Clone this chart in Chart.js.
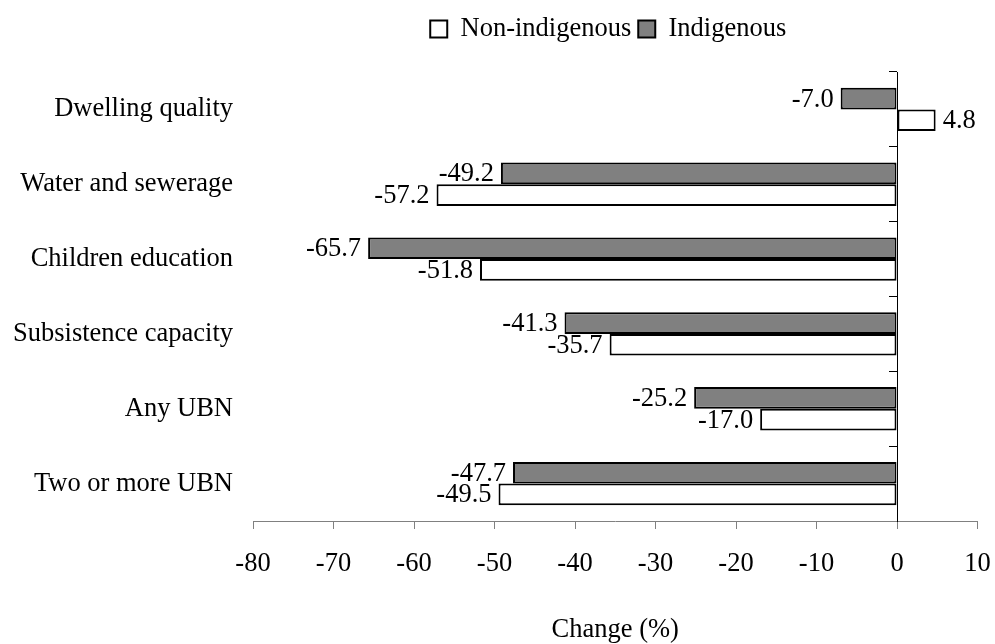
<!DOCTYPE html>
<html>
<head>
<meta charset="utf-8">
<script src="https://cdn.jsdelivr.net/npm/chart.js@4.4.1/dist/chart.umd.min.js"></script>
<style>
  html, body { margin: 0; padding: 0; background: #ffffff; }
  canvas { display: block; }
</style>
</head>
<body>
<canvas id="c" width="995" height="644"></canvas>
<script>
const categories = ['Dwelling quality', 'Water and sewerage', 'Children education', 'Subsistence capacity', 'Any UBN', 'Two or more UBN'];
const indigenous = [-7.0, -49.2, -65.7, -41.3, -25.2, -47.7];
const nonIndigenous = [4.8, -57.2, -51.8, -35.7, -17.0, -49.5];
const seriesNames = ['Indigenous', 'Non-indigenous'];
const xMin = -80;
const xMax = 10;
const xStep = 10;
const xTitle = 'Change (%)';

const FONT = { family: "'Liberation Serif', 'Times New Roman', serif", size: 26.5 };

const legendSpacer = {
  id: 'legendSpacer',
  beforeInit(chart) {
    const origFit = chart.legend.fit;
    chart.legend.fit = function () {
      origFit.bind(chart.legend)();
      this.height = 63.25;
    };
  },
  afterLayout(chart) {
    chart.legend.left -= 7;
    chart.legend.right -= 7;
  }
};

const valueLabels = {
  id: 'valueLabels',
  afterDatasetsDraw(chart) {
    const ctx = chart.ctx;
    ctx.save();
    ctx.font = FONT.size + 'px ' + FONT.family;
    ctx.fillStyle = '#000000';
    ctx.textBaseline = 'middle';
    chart.data.datasets.forEach((ds, i) => {
      const meta = chart.getDatasetMeta(i);
      meta.data.forEach((el, j) => {
        const v = ds.data[j];
        const txt = v.toFixed(1);
        if (v < 0) {
          ctx.textAlign = 'right';
          ctx.fillText(txt, el.x - 7, el.y + 1);
        } else {
          ctx.textAlign = 'left';
          ctx.fillText(txt, el.x + 7, el.y + 1);
        }
      });
    });
    ctx.restore();
  }
};

Chart.defaults.font.family = FONT.family;
Chart.defaults.color = '#000000';

new Chart(document.getElementById('c'), {
  type: 'bar',
  data: {
    labels: categories,
    datasets: [
      {
        label: seriesNames[0],
        data: indigenous,
        backgroundColor: '#808080',
        borderColor: '#000000',
        borderWidth: 2,
        borderSkipped: false
      },
      {
        label: seriesNames[1],
        data: nonIndigenous,
        backgroundColor: '#ffffff',
        borderColor: '#000000',
        borderWidth: 2,
        borderSkipped: false
      }
    ]
  },
  options: {
    indexAxis: 'y',
    responsive: false,
    animation: false,
    devicePixelRatio: 1,
    categoryPercentage: 0.58,
    barPercentage: 1.0,
    layout: { padding: { top: 8.75, left: 0, right: 0, bottom: 0 } },
    plugins: {
      tooltip: { enabled: false },
      legend: {
        position: 'top',
        fullSize: false,
        reverse: true,
        labels: {
          font: FONT,
          color: '#000000',
          boxWidth: 17,
          boxHeight: 17,
          padding: 7
        }
      }
    },
    scales: {
      x: {
        type: 'linear',
        position: 'bottom',
        min: xMin,
        max: xMax,
        ticks: { stepSize: xStep, font: FONT, color: '#000000', padding: 19 },
        grid: { display: true, drawOnChartArea: false, drawTicks: true, tickLength: 8, color: '#808080' },
        border: { display: true, color: '#808080', width: 1 },
        title: { display: true, text: xTitle, font: FONT, color: '#000000', padding: { top: 0, bottom: -2 } },
        afterFit(scale) {
          scale.height = 123;
          scale.paddingRight = 17.5;
          scale.paddingLeft = 0;
        }
      },
      y: {
        type: 'category',
        position: 'left',
        ticks: { font: FONT, color: '#000000', padding: 20 },
        grid: { display: false, drawTicks: false, tickLength: 0 },
        border: { display: false },
        afterFit(scale) { scale.width = 253; }
      },
      y2: {
        type: 'category',
        position: { x: 0 },
        offset: true,
        ticks: { display: false },
        grid: { display: true, offset: true, drawOnChartArea: false, drawTicks: true, tickLength: 8, color: '#000000' },
        border: { display: true, color: '#000000', width: 1 }
      }
    }
  },
  plugins: [legendSpacer, valueLabels]
});
</script>
</body>
</html>
